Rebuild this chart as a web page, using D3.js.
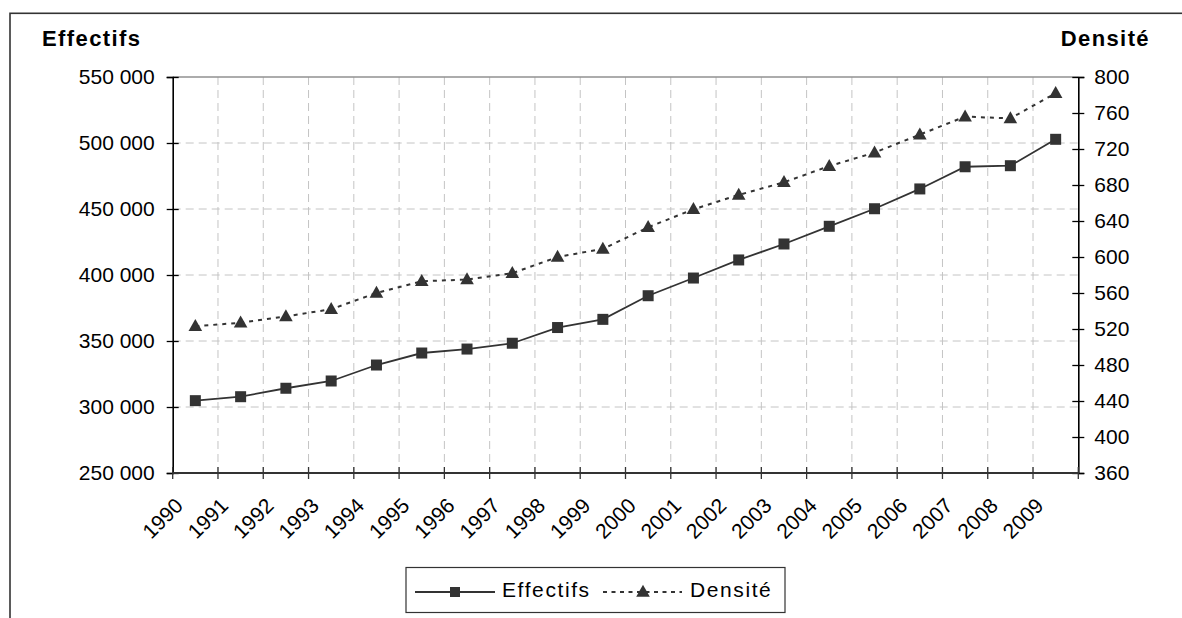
<!DOCTYPE html>
<html><head><meta charset="utf-8">
<script src="https://cdn.jsdelivr.net/npm/d3@7"></script>
<style>body{margin:0;background:#fff}svg{display:block;font-family:"Liberation Sans",Arial,sans-serif}</style>
</head><body><svg id="c" width="1182" height="618"></svg>
<script>
const years = ["1990","1991","1992","1993","1994","1995","1996","1997","1998","1999","2000","2001","2002","2003","2004","2005","2006","2007","2008","2009"];
const effectifs = [304800,307800,314200,319700,331800,340900,343900,348300,360200,366400,384300,397700,411400,423500,436900,450200,465200,482000,482800,502800];
const densite = [523,527,534,542,560,573,575,582,600,609,633,653,669,683,701,716,736,756,754,782];
const effTicks = [250000,300000,350000,400000,450000,500000,550000];
const densTicks = [360,400,440,480,520,560,600,640,680,720,760,800];
const seriesNames = ["Effectifs","Densité"];
const axisTitles = ["Effectifs","Densité"];

const svg = d3.select("#c");
const L = 172.7, R = 1078.3, T = 77, B = 473;
const ink = "#333";
const FF = "Liberation Sans, Arial, sans-serif";

svg.append("rect").attr("width",1182).attr("height",618).attr("fill","#fff");
svg.append("rect").attr("x",10).attr("y",13.3).attr("width",1300).attr("height",800)
  .attr("fill","none").attr("stroke",ink).attr("stroke-width",1.6);

const x = d3.scaleBand().domain(years).range([L,R]).padding(0);
const yL = d3.scaleLinear().domain([250000,550000]).range([B,T]);
const yR = d3.scaleLinear().domain([360,800]).range([B,T]);
const fmt = d3.formatLocale({thousands:" ",grouping:[3],decimal:",",currency:["","€"]}).format(",");

// gridlines
const g = svg.append("g");
g.selectAll(".hg").data(effTicks.slice(1,-1)).join("line")
  .attr("x1",L).attr("x2",R).attr("y1",d=>yL(d)).attr("y2",d=>yL(d))
  .attr("stroke","#c4c4c4").attr("stroke-width",1).attr("stroke-dasharray","8,5");
g.selectAll(".vg").data(years.slice(1)).join("line")
  .attr("x1",d=>x(d)).attr("x2",d=>x(d)).attr("y1",T).attr("y2",B)
  .attr("stroke","#c4c4c4").attr("stroke-width",1).attr("stroke-dasharray","8,5");
svg.append("line").attr("x1",L).attr("x2",R).attr("y1",T).attr("y2",T)
  .attr("stroke","#909090").attr("stroke-width",1.5);

// left axis
const ax = svg.append("g").attr("transform",`translate(${L},0)`)
  .call(d3.axisLeft(yL).tickValues(effTicks).tickFormat(fmt).tickSize(6).tickPadding(12));
ax.select(".domain").attr("stroke","#000").attr("stroke-width",1.6);
ax.selectAll(".tick line").attr("x1",-6).attr("x2",6).attr("stroke","#000").attr("stroke-width",1.3);
ax.selectAll(".tick text").attr("font-size",21).attr("fill","#000").attr("font-family",FF);

// right axis
const ar = svg.append("g").attr("transform",`translate(${R},0)`)
  .call(d3.axisRight(yR).tickValues(densTicks).tickSize(6).tickPadding(10));
ar.select(".domain").attr("stroke","#000").attr("stroke-width",1.6);
ar.selectAll(".tick line").attr("x1",-6).attr("x2",6).attr("stroke","#000").attr("stroke-width",1.3);
ar.selectAll(".tick text").attr("font-size",21).attr("fill","#000").attr("font-family",FF);

// bottom axis
const bx = svg.append("g").attr("transform",`translate(0,${B})`);
bx.append("line").attr("x1",L).attr("x2",R).attr("stroke",ink).attr("stroke-width",2);
bx.selectAll(".bt").data(years.concat(["end"])).join("line")
  .attr("x1",(d,i)=> i<years.length ? x(d) : R).attr("x2",(d,i)=> i<years.length ? x(d) : R)
  .attr("y1",-6).attr("y2",6).attr("stroke",ink).attr("stroke-width",1.3);
svg.selectAll(".xl").data(years).join("text")
  .attr("transform",d=>`translate(${x(d)+x.bandwidth()/2-11},507) rotate(-45)`)
  .attr("text-anchor","end").attr("font-size",21).attr("fill","#000").text(d=>d);

// titles
svg.append("text").attr("x",42).attr("y",45.5).attr("font-size",22).attr("font-weight","bold")
  .attr("letter-spacing",1.4).text(axisTitles[0]);
svg.append("text").attr("x",1150).attr("y",45.5).attr("font-size",22).attr("font-weight","bold")
  .attr("letter-spacing",1.4).attr("text-anchor","end").text(axisTitles[1]);

// series
const cx = d => x(d)+x.bandwidth()/2;
const tri = "M0,-7.2L6.8,4.8L-6.8,4.8Z";
svg.append("path").datum(densite)
  .attr("d",d3.line().x((d,i)=>cx(years[i])).y(d=>yR(d)))
  .attr("fill","none").attr("stroke",ink).attr("stroke-width",2).attr("stroke-dasharray","4,5");
svg.append("path").datum(effectifs)
  .attr("d",d3.line().x((d,i)=>cx(years[i])).y(d=>yL(d)))
  .attr("fill","none").attr("stroke",ink).attr("stroke-width",1.8);
svg.selectAll(".sq").data(effectifs).join("rect")
  .attr("x",(d,i)=>cx(years[i])-5.5).attr("y",d=>yL(d)-5.5).attr("width",11).attr("height",11).attr("fill",ink);
svg.selectAll(".tr").data(densite).join("path")
  .attr("transform",(d,i)=>`translate(${cx(years[i])},${yR(d)})`).attr("d",tri).attr("fill",ink);

// legend
const lg = svg.append("g");
lg.append("rect").attr("x",406).attr("y",567.5).attr("width",379).attr("height",45)
  .attr("fill","#fff").attr("stroke",ink).attr("stroke-width",1.2);
lg.append("line").attr("x1",415).attr("x2",495).attr("y1",592).attr("y2",592).attr("stroke",ink).attr("stroke-width",1.8);
lg.append("rect").attr("x",450).attr("y",587).attr("width",10).attr("height",10).attr("fill",ink);
lg.append("text").attr("x",502).attr("y",597).attr("font-size",21).attr("letter-spacing",1.6).text(seriesNames[0]);
lg.append("line").attr("x1",603).attr("x2",682).attr("y1",592).attr("y2",592).attr("stroke",ink).attr("stroke-width",1.8).attr("stroke-dasharray","4,4.5");
lg.append("path").attr("transform","translate(643,592)").attr("d",tri).attr("fill",ink);
lg.append("text").attr("x",690).attr("y",597).attr("font-size",21).attr("letter-spacing",1.6).text(seriesNames[1]);
</script></body></html>
